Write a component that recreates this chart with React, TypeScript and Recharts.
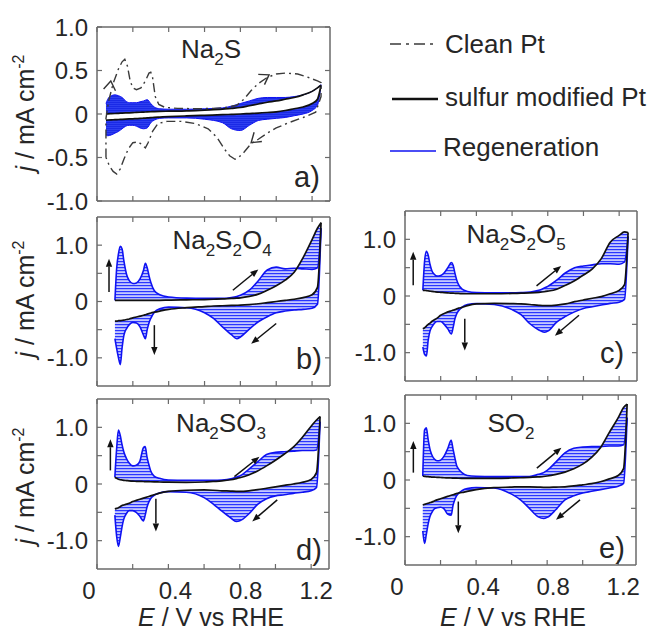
import React from "react";
import { ComposedChart, Line, Area, XAxis, YAxis, ReferenceLine } from "recharts";

const W = 655;
const H = 630;
const FONT = '"Liberation Sans", Arial, Helvetica, sans-serif';
const AXIS = "#6a6a6a";
const TXT = "#262626";
const BLUE = "#0f12f2";

// ---------- Potential grid (V vs RHE) for panels b–e ----------
const E_GRID = [0.10, 0.11, 0.12, 0.13, 0.14, 0.15, 0.165, 0.18, 0.20, 0.22, 0.24, 0.26, 0.27, 0.28, 0.29, 0.30, 0.32, 0.35, 0.40, 0.50, 0.60, 0.65, 0.70, 0.75, 0.78, 0.80, 0.85, 0.90, 0.95, 1.00, 1.05, 1.10, 1.15, 1.20, 1.23, 1.25];

// b) Na2S2O4
const B_SULF_AN = [0.02, 0.02, 0.02, 0.02, 0.02, 0.02, 0.02, 0.02, 0.02, 0.02, 0.02, 0.02, 0.02, 0.02, 0.02, 0.02, 0.02, 0.02, 0.025, 0.03, 0.035, 0.04, 0.045, 0.055, 0.06, 0.065, 0.09, 0.13, 0.2, 0.28, 0.38, 0.52, 0.78, 1.1, 1.3, 1.4];
const B_REGEN_AN = [0.02, 0.6, 0.85, 0.98, 0.93, 0.72, 0.48, 0.37, 0.32, 0.33, 0.4, 0.56, 0.68, 0.6, 0.46, 0.34, 0.19, 0.12, 0.08, 0.06, 0.055, 0.055, 0.055, 0.07, 0.09, 0.11, 0.2, 0.37, 0.56, 0.61, 0.58, 0.59, 0.58, 0.57, 0.6, 1.3];
const B_SULF_CA = [-0.35, -0.35, -0.34, -0.34, -0.335, -0.33, -0.32, -0.31, -0.29, -0.275, -0.26, -0.245, -0.235, -0.225, -0.215, -0.205, -0.19, -0.17, -0.14, -0.11, -0.09, -0.08, -0.075, -0.07, -0.067, -0.065, -0.055, -0.04, -0.02, 0.0, 0.02, 0.04, 0.07, 0.12, 0.25, 1.4];
const B_REGEN_CA = [-0.66, -0.84, -1.0, -1.12, -0.82, -0.6, -0.48, -0.41, -0.37, -0.38, -0.45, -0.6, -0.66, -0.5, -0.38, -0.3, -0.19, -0.13, -0.1, -0.11, -0.2, -0.3, -0.45, -0.59, -0.66, -0.63, -0.49, -0.36, -0.27, -0.2, -0.17, -0.15, -0.14, -0.12, -0.05, 1.3];

// c) Na2S2O5
const C_SULF_AN = [0.1, 0.1, 0.095, 0.09, 0.085, 0.08, 0.075, 0.07, 0.065, 0.06, 0.055, 0.05, 0.05, 0.048, 0.046, 0.045, 0.042, 0.04, 0.04, 0.04, 0.045, 0.05, 0.055, 0.065, 0.075, 0.085, 0.12, 0.19, 0.27, 0.37, 0.48, 0.66, 0.95, 1.07, 1.13, 1.12];
const C_REGEN_AN = [0.1, 0.62, 0.79, 0.72, 0.56, 0.45, 0.38, 0.35, 0.36, 0.41, 0.5, 0.59, 0.54, 0.4, 0.28, 0.2, 0.12, 0.08, 0.06, 0.055, 0.055, 0.06, 0.07, 0.1, 0.14, 0.17, 0.28, 0.41, 0.5, 0.53, 0.55, 0.57, 0.57, 0.56, 0.6, 1.05];
const C_SULF_CA = [-0.58, -0.56, -0.53, -0.5, -0.48, -0.45, -0.42, -0.39, -0.34, -0.31, -0.28, -0.26, -0.25, -0.24, -0.225, -0.215, -0.2, -0.17, -0.14, -0.13, -0.135, -0.14, -0.15, -0.165, -0.17, -0.17, -0.16, -0.14, -0.1, -0.07, -0.04, -0.01, 0.04, 0.1, 0.2, 1.12];
const C_REGEN_CA = [-0.9, -1.03, -1.06, -0.78, -0.62, -0.55, -0.48, -0.45, -0.45, -0.5, -0.58, -0.67, -0.55, -0.4, -0.31, -0.26, -0.195, -0.15, -0.135, -0.15, -0.24, -0.33, -0.49, -0.6, -0.64, -0.62, -0.46, -0.36, -0.28, -0.22, -0.19, -0.16, -0.13, -0.11, -0.06, 1.05];

// d) Na2SO3
const D_SULF_AN = [0.12, 0.1, 0.085, 0.075, 0.07, 0.065, 0.06, 0.055, 0.05, 0.048, 0.046, 0.044, 0.043, 0.042, 0.041, 0.04, 0.038, 0.035, 0.032, 0.03, 0.035, 0.045, 0.055, 0.075, 0.095, 0.11, 0.16, 0.23, 0.32, 0.42, 0.53, 0.65, 0.82, 1.02, 1.13, 1.19];
const D_REGEN_AN = [0.12, 0.62, 0.95, 0.86, 0.7, 0.57, 0.45, 0.37, 0.32, 0.33, 0.4, 0.64, 0.66, 0.48, 0.35, 0.24, 0.14, 0.1, 0.07, 0.065, 0.065, 0.065, 0.07, 0.09, 0.12, 0.14, 0.26, 0.39, 0.52, 0.56, 0.57, 0.58, 0.59, 0.59, 0.6, 1.1];
const D_SULF_CA = [-0.44, -0.43, -0.42, -0.4, -0.38, -0.37, -0.355, -0.34, -0.31, -0.29, -0.27, -0.25, -0.24, -0.23, -0.22, -0.21, -0.19, -0.16, -0.13, -0.11, -0.105, -0.11, -0.12, -0.125, -0.13, -0.13, -0.12, -0.1, -0.075, -0.05, -0.025, 0.0, 0.03, 0.08, 0.2, 1.19];
const D_REGEN_CA = [-0.55, -0.92, -1.1, -0.95, -0.76, -0.62, -0.52, -0.47, -0.47, -0.5, -0.57, -0.65, -0.55, -0.41, -0.32, -0.26, -0.2, -0.16, -0.135, -0.145, -0.24, -0.35, -0.48, -0.6, -0.66, -0.65, -0.53, -0.36, -0.26, -0.21, -0.19, -0.165, -0.145, -0.12, -0.06, 1.1];

// e) SO2
const E_SULF_AN = [0.07, 0.065, 0.06, 0.058, 0.055, 0.052, 0.05, 0.047, 0.044, 0.04, 0.038, 0.035, 0.034, 0.033, 0.032, 0.031, 0.03, 0.03, 0.03, 0.03, 0.035, 0.04, 0.045, 0.055, 0.062, 0.07, 0.1, 0.14, 0.2, 0.28, 0.4, 0.57, 0.84, 1.1, 1.28, 1.34];
const E_REGEN_AN = [0.07, 0.88, 0.92, 0.72, 0.55, 0.45, 0.37, 0.34, 0.35, 0.42, 0.55, 0.7, 0.55, 0.4, 0.26, 0.2, 0.13, 0.08, 0.065, 0.06, 0.06, 0.06, 0.06, 0.1, 0.13, 0.17, 0.32, 0.48, 0.56, 0.58, 0.59, 0.59, 0.6, 0.6, 0.62, 1.1];
const E_SULF_CA = [-0.44, -0.43, -0.42, -0.41, -0.4, -0.39, -0.37, -0.35, -0.33, -0.31, -0.29, -0.27, -0.26, -0.25, -0.24, -0.23, -0.22, -0.2, -0.17, -0.135, -0.125, -0.12, -0.12, -0.125, -0.13, -0.13, -0.125, -0.12, -0.105, -0.085, -0.065, -0.03, 0.02, 0.08, 0.2, 1.34];
const E_REGEN_CA = [-0.9, -1.12, -0.96, -0.78, -0.65, -0.58, -0.51, -0.49, -0.48, -0.51, -0.6, -0.62, -0.45, -0.35, -0.28, -0.24, -0.19, -0.15, -0.135, -0.14, -0.25, -0.35, -0.5, -0.65, -0.68, -0.66, -0.52, -0.35, -0.28, -0.23, -0.2, -0.17, -0.14, -0.11, -0.06, 1.1];

// ---------- a) Na2S ----------
const A_GRID = [0.05, 0.06, 0.08, 0.10, 0.12, 0.14, 0.16, 0.18, 0.20, 0.22, 0.24, 0.26, 0.28, 0.30, 0.32, 0.35, 0.40, 0.50, 0.60, 0.70, 0.75, 0.80, 0.85, 0.90, 0.95, 1.00, 1.05, 1.10, 1.15, 1.20, 1.23, 1.25];
const A_REGEN_UP = [0.12, 0.17, 0.21, 0.22, 0.21, 0.19, 0.15, 0.13, 0.13, 0.13, 0.14, 0.15, 0.165, 0.12, 0.08, 0.06, 0.055, 0.055, 0.06, 0.07, 0.09, 0.12, 0.15, 0.18, 0.19, 0.19, 0.19, 0.2, 0.22, 0.26, 0.3, 0.34];
const A_SULF_AN = [0.0, 0.002, 0.004, 0.006, 0.008, 0.01, 0.012, 0.014, 0.016, 0.018, 0.02, 0.022, 0.024, 0.026, 0.028, 0.03, 0.032, 0.036, 0.045, 0.055, 0.065, 0.075, 0.095, 0.115, 0.135, 0.15, 0.17, 0.19, 0.22, 0.26, 0.3, 0.33];
const A_SULF_CA = [-0.07, -0.069, -0.067, -0.065, -0.063, -0.061, -0.059, -0.057, -0.055, -0.053, -0.051, -0.048, -0.045, -0.042, -0.038, -0.035, -0.03, -0.022, -0.015, -0.008, -0.004, 0.0, 0.005, 0.01, 0.017, 0.025, 0.04, 0.06, 0.08, 0.12, 0.17, 0.33];
const A_REGEN_LOW = [-0.24, -0.25, -0.24, -0.22, -0.2, -0.17, -0.14, -0.13, -0.13, -0.14, -0.16, -0.17, -0.16, -0.1, -0.07, -0.05, -0.045, -0.045, -0.06, -0.1, -0.17, -0.19, -0.13, -0.075, -0.06, -0.05, -0.04, -0.02, 0.0, 0.04, 0.1, 0.33];

// Clean Pt CV (dash-dot), full loop in scan order
const CLEAN_E = [0.05, 0.05, 0.065, 0.09, 0.12, 0.14, 0.155, 0.17, 0.185, 0.2, 0.22, 0.245, 0.27, 0.29, 0.30, 0.31, 0.325, 0.345, 0.38, 0.45, 0.55, 0.65, 0.72, 0.78, 0.82, 0.86, 0.9, 0.95, 1.0, 1.05, 1.12, 1.18, 1.23, 1.25, 1.25, 1.22, 1.15, 1.07, 1.0, 0.95, 0.9, 0.86, 0.82, 0.79, 0.77, 0.74, 0.71, 0.67, 0.62, 0.55, 0.47, 0.39, 0.34, 0.31, 0.285, 0.27, 0.255, 0.23, 0.2, 0.175, 0.15, 0.13, 0.11, 0.09, 0.07, 0.05];
const CLEAN_J = [-0.5, -0.05, 0.15, 0.35, 0.52, 0.6, 0.63, 0.55, 0.38, 0.3, 0.28, 0.3, 0.38, 0.47, 0.48, 0.42, 0.2, 0.11, 0.075, 0.065, 0.06, 0.065, 0.075, 0.1, 0.17, 0.27, 0.35, 0.42, 0.46, 0.47, 0.46, 0.42, 0.38, 0.36, 0.2, 0.02, -0.04, -0.1, -0.16, -0.22, -0.29, -0.34, -0.44, -0.5, -0.52, -0.48, -0.4, -0.27, -0.17, -0.11, -0.085, -0.085, -0.11, -0.2, -0.33, -0.39, -0.36, -0.32, -0.33, -0.4, -0.52, -0.63, -0.69, -0.66, -0.6, -0.5];

// Scan-direction arrows [E1, j1, E2, j2]
const A_ARROWS = [[0.066, 0.22, 0.077, 0.38], [0.92, 0.4, 0.96, 0.45], [0.9, -0.26, 0.86, -0.33]];
const B_ARROWS = [[0.067, 0.17, 0.067, 0.76], [0.32, -0.42, 0.32, -0.95], [0.758, 0.2, 0.9, 0.57], [1.0, -0.39, 0.86, -0.75]];
const C_ARROWS = [[0.046, 0.19, 0.046, 0.78], [0.335, -0.4, 0.335, -0.96], [0.737, 0.18, 0.875, 0.53], [0.975, -0.34, 0.84, -0.7]];
const D_ARROWS = [[0.075, 0.24, 0.075, 0.79], [0.33, -0.26, 0.33, -0.84], [0.77, 0.13, 0.91, 0.48], [1.01, -0.28, 0.87, -0.66]];
const E_ARROWS = [[0.047, 0.13, 0.047, 0.69], [0.30, -0.38, 0.30, -0.94], [0.742, 0.21, 0.88, 0.57], [0.985, -0.35, 0.85, -0.7]];

const X_TICKS = [0, 0.2, 0.4, 0.6, 0.8, 1.0, 1.2];
const X_LABELED = [0, 0.4, 0.8, 1.2];
const Y_TICKS = [-1, -0.5, 0, 0.5, 1];

// ---------- helpers ----------
type Frame = { L: number; R: number; T: number; B: number };

const rowsFrom = (grid: number[], bA: number[], rA: number[], bC: number[], rC: number[]) =>
  grid.map((E, i) => ({ E, bA: bA[i], rA: rA[i], bC: bC[i], rC: rC[i] }));

const NoTick = () => <g />;

const ArrowShape = (p: any) => {
  const { x1, y1, x2, y2 } = p;
  const a = Math.atan2(y2 - y1, x2 - x1);
  const hl = 8;
  const hw = 3.2;
  const bx = x2 - hl * Math.cos(a);
  const by = y2 - hl * Math.sin(a);
  const px = -Math.sin(a) * hw;
  const py = Math.cos(a) * hw;
  return (
    <g>
      <line x1={x1} y1={y1} x2={bx} y2={by} stroke="#111" strokeWidth={1.5} />
      <polygon points={`${x2},${y2} ${bx + px},${by + py} ${bx - px},${by - py}`} fill="#111" />
    </g>
  );
};

const ChevronShape = (p: any) => {
  const { x1, y1, x2, y2 } = p;
  const a = Math.atan2(y2 - y1, x2 - x1);
  const hl = 9;
  const hw = 6;
  const bx = x2 - hl * Math.cos(a);
  const by = y2 - hl * Math.sin(a);
  const px = -Math.sin(a) * hw;
  const py = Math.cos(a) * hw;
  return (
    <polyline
      points={`${bx + px},${by + py} ${x2},${y2} ${bx - px},${by - py}`}
      fill="none"
      stroke="#333"
      strokeWidth={1.4}
    />
  );
};

function makeYTick(fmt: (v: number) => string | null) {
  return (props: any) => {
    const { x, y, payload } = props;
    const s = fmt(payload.value);
    if (s === null) return <g />;
    return (
      <text x={x} y={y + 8.5} textAnchor="end" fontSize={24} fill={TXT} fontFamily={FONT}>
        {s}
      </text>
    );
  };
}

const fmtAll = (v: number) => (v === 0 ? "0" : v.toFixed(1));
const fmtInt = (v: number) => (Number.isInteger(v) ? (v === 0 ? "0" : v.toFixed(1)) : null);

const X_LABEL_SHIFT = [-8, 7, 6, 5];
const XTick = (props: any) => {
  const { x, y, payload } = props;
  const idx = X_LABELED.findIndex((t) => Math.abs(t - payload.value) < 1e-6);
  if (idx < 0) return <g />;
  const v = X_LABELED[idx];
  return (
    <text x={x + X_LABEL_SHIFT[idx]} y={y + 8.5} textAnchor="middle" fontSize={24} fill={TXT} fontFamily={FONT}>
      {v === 0 ? "0" : v.toFixed(1)}
    </text>
  );
};

function Panel(props: {
  frame: Frame;
  yDomain: [number, number];
  yFmt: (v: number) => string | null;
  showX: boolean;
  data: any[];
  children: React.ReactNode;
}) {
  const { frame, yDomain, yFmt, showX, data, children } = props;
  const margin = { left: frame.L - 60, right: W - frame.R - 5, top: frame.T - 5, bottom: H - frame.B - 40 };
  const axisLine = { stroke: AXIS, strokeWidth: 1.5 };
  const tickLine = { stroke: AXIS, strokeWidth: 1.2 };
  return (
    <div style={{ position: "absolute", left: 0, top: 0, width: W, height: H }}>
      <ComposedChart width={W} height={H} data={data} margin={margin}>
        <XAxis
          xAxisId={0}
          type="number"
          dataKey="E"
          domain={[0, 1.3]}
          ticks={X_TICKS}
          interval={0}
          allowDataOverflow
          orientation="bottom"
          height={40}
          axisLine={axisLine}
          tickLine={tickLine}
          tickSize={-5}
          tickMargin={26}
          tick={showX ? XTick : NoTick}
        />
        <XAxis
          xAxisId="top"
          type="number"
          dataKey="E"
          domain={[0, 1.3]}
          ticks={X_TICKS}
          interval={0}
          allowDataOverflow
          orientation="top"
          height={5}
          axisLine={axisLine}
          tickLine={tickLine}
          tickSize={-5}
          tick={NoTick}
        />
        <YAxis
          yAxisId={0}
          type="number"
          domain={yDomain}
          ticks={Y_TICKS}
          interval={0}
          allowDataOverflow
          width={60}
          axisLine={axisLine}
          tickLine={tickLine}
          tickSize={-5}
          tickMargin={14}
          tick={makeYTick(yFmt)}
        />
        <YAxis
          yAxisId="right"
          orientation="right"
          type="number"
          domain={yDomain}
          ticks={Y_TICKS}
          interval={0}
          allowDataOverflow
          width={5}
          axisLine={axisLine}
          tickLine={tickLine}
          tickSize={-5}
          tick={NoTick}
        />
        {children}
      </ComposedChart>
    </div>
  );
}

function cvSeries(arrows: number[][]) {
  return [
    <Area key="ba" dataKey={(d: any) => [d.bA, d.rA]} type="monotone" stroke="none" fill="url(#cycleStripes)" fillOpacity={1} isAnimationActive={false} activeDot={false} />,
    <Area key="bc" dataKey={(d: any) => [d.rC, d.bC]} type="monotone" stroke="none" fill="url(#cycleStripes)" fillOpacity={1} isAnimationActive={false} activeDot={false} />,
    <Line key="ra" dataKey="rA" type="monotone" stroke={BLUE} strokeWidth={1.6} dot={false} activeDot={false} isAnimationActive={false} />,
    <Line key="rc" dataKey="rC" type="monotone" stroke={BLUE} strokeWidth={1.6} dot={false} activeDot={false} isAnimationActive={false} />,
    <Line key="sa" dataKey="bA" type="monotone" stroke="#111" strokeWidth={1.7} dot={false} activeDot={false} isAnimationActive={false} />,
    <Line key="sc" dataKey="bC" type="monotone" stroke="#111" strokeWidth={1.7} dot={false} activeDot={false} isAnimationActive={false} />,
    ...arrows.map((a, i) => (
      <ReferenceLine key={"ar" + i} segment={[{ x: a[0], y: a[1] }, { x: a[2], y: a[3] }]} shape={ArrowShape} />
    )),
  ];
}

function Formula(props: { x: number; y: number; parts: [string, boolean][] }) {
  const { x, y, parts } = props;
  let shifted = false;
  return (
    <text x={x} y={y} textAnchor="middle" fontSize={26} fill={TXT} fontFamily={FONT}>
      {parts.map(([s, sub], i) => {
        let dy = 0;
        if (sub && !shifted) { dy = 7; shifted = true; }
        else if (!sub && shifted) { dy = -7; shifted = false; }
        return (
          <tspan key={i} dy={dy} fontSize={sub ? 17 : 26}>
            {s}
          </tspan>
        );
      })}
    </text>
  );
}

export default function App() {
  const rowsA = A_GRID.map((E, i) => ({ E, up: A_REGEN_UP[i], sa: A_SULF_AN[i], sc: A_SULF_CA[i], low: A_REGEN_LOW[i] }));
  const cleanRows = CLEAN_E.map((E, i) => ({ E, j: CLEAN_J[i] }));
  const rowsB = rowsFrom(E_GRID, B_SULF_AN, B_REGEN_AN, B_SULF_CA, B_REGEN_CA);
  const rowsC = rowsFrom(E_GRID, C_SULF_AN, C_REGEN_AN, C_SULF_CA, C_REGEN_CA);
  const rowsD = rowsFrom(E_GRID, D_SULF_AN, D_REGEN_AN, D_SULF_CA, D_REGEN_CA);
  const rowsE = rowsFrom(E_GRID, E_SULF_AN, E_REGEN_AN, E_SULF_CA, E_REGEN_CA);

  return (
    <div style={{ position: "absolute", left: 0, top: 0, width: W, height: H, background: "#fff", fontFamily: FONT }}>
      <svg width={0} height={0} style={{ position: "absolute" }}>
        <defs>
          <pattern id="cycleStripes" width={6} height={3} patternUnits="userSpaceOnUse">
            <rect x={0} y={0} width={6} height={3} fill="#c4c9ff" />
            <rect x={0} y={0} width={6} height={1.2} fill="#2a36ff" />
          </pattern>
          <pattern id="denseStripes" width={6} height={2} patternUnits="userSpaceOnUse">
            <rect x={0} y={0} width={6} height={2} fill="#2e3ef0" />
            <rect x={0} y={0} width={6} height={1} fill="#1a2ae6" />
          </pattern>
        </defs>
      </svg>

      {/* a) Na2S */}
      <Panel frame={{ L: 97, R: 330, T: 27, B: 201 }} yDomain={[-1, 1]} yFmt={fmtAll} showX={false} data={rowsA}>
        {[
          <Area key="au" dataKey={(d: any) => [d.sa, d.up]} type="monotone" stroke="none" fill="url(#denseStripes)" fillOpacity={1} isAnimationActive={false} activeDot={false} />,
          <Area key="al" dataKey={(d: any) => [d.low, d.sc]} type="monotone" stroke="none" fill="url(#denseStripes)" fillOpacity={1} isAnimationActive={false} activeDot={false} />,
          <Line key="lu" dataKey="up" type="monotone" stroke={BLUE} strokeWidth={1} dot={false} activeDot={false} isAnimationActive={false} />,
          <Line key="ll" dataKey="low" type="monotone" stroke={BLUE} strokeWidth={1} dot={false} activeDot={false} isAnimationActive={false} />,
          <Line key="sa" dataKey="sa" type="monotone" stroke="#111" strokeWidth={1.7} dot={false} activeDot={false} isAnimationActive={false} />,
          <Line key="sc" dataKey="sc" type="monotone" stroke="#111" strokeWidth={1.7} dot={false} activeDot={false} isAnimationActive={false} />,
          <Line key="clean" data={cleanRows} dataKey="j" type="linear" stroke="#3a3a3a" strokeWidth={1.4} strokeDasharray="9 4 2 4" dot={false} activeDot={false} isAnimationActive={false} />,
          ...A_ARROWS.map((a, i) => (
            <ReferenceLine key={"ch" + i} segment={[{ x: a[0], y: a[1] }, { x: a[2], y: a[3] }]} shape={ChevronShape} />
          )),
        ]}
      </Panel>

      <Panel frame={{ L: 97, R: 330, T: 217, B: 386 }} yDomain={[-1.5, 1.5]} yFmt={fmtInt} showX={false} data={rowsB}>
        {cvSeries(B_ARROWS)}
      </Panel>
      <Panel frame={{ L: 405, R: 637, T: 211, B: 381 }} yDomain={[-1.5, 1.5]} yFmt={fmtInt} showX={false} data={rowsC}>
        {cvSeries(C_ARROWS)}
      </Panel>
      <Panel frame={{ L: 97, R: 329, T: 399, B: 569 }} yDomain={[-1.5, 1.5]} yFmt={fmtInt} showX={true} data={rowsD}>
        {cvSeries(D_ARROWS)}
      </Panel>
      <Panel frame={{ L: 405, R: 636, T: 395, B: 565 }} yDomain={[-1.5, 1.5]} yFmt={fmtInt} showX={true} data={rowsE}>
        {cvSeries(E_ARROWS)}
      </Panel>

      {/* text overlay */}
      <svg width={W} height={H} style={{ position: "absolute", left: 0, top: 0, pointerEvents: "none" }} fontFamily={FONT}>
        {[113, 299, 486].map((cy) => (
          <text key={cy} transform={`translate(34,${cy}) rotate(-90)`} textAnchor="middle" fontSize={25} fill={TXT}>
            <tspan fontStyle="italic">j</tspan>
            <tspan> / mA cm</tspan>
            <tspan dy={-10} fontSize={16}>-2</tspan>
          </text>
        ))}

        <Formula x={211} y={58} parts={[["Na", false], ["2", true], ["S", false]]} />
        <Formula x={222} y={249} parts={[["Na", false], ["2", true], ["S", false], ["2", true], ["O", false], ["4", true]]} />
        <Formula x={516} y={243} parts={[["Na", false], ["2", true], ["S", false], ["2", true], ["O", false], ["5", true]]} />
        <Formula x={221} y={432} parts={[["Na", false], ["2", true], ["SO", false], ["3", true]]} />
        <Formula x={511} y={432} parts={[["SO", false], ["2", true]]} />

        {[["a)", 307, 187], ["b)", 309, 369], ["c)", 612, 363], ["d)", 309, 560], ["e)", 612, 558]].map(([s, x, y]) => (
          <text key={s as string} x={x as number} y={y as number} textAnchor="middle" fontSize={29} fill={TXT}>
            {s}
          </text>
        ))}

        {[211, 513].map((cx) => (
          <text key={cx} x={cx} y={626} textAnchor="middle" fontSize={25} fill={TXT}>
            <tspan fontStyle="italic">E</tspan>
            <tspan> / V vs RHE</tspan>
          </text>
        ))}

        {/* legend */}
        <line x1={390} y1={44} x2={436} y2={44} stroke="#3a3a3a" strokeWidth={1.5} strokeDasharray="11 5 3 5" />
        <text x={445} y={53} fontSize={26} fill={TXT}>Clean Pt</text>
        <line x1={392} y1={99} x2={438} y2={99} stroke="#111" strokeWidth={2.6} />
        <text x={445} y={106} fontSize={26} fill={TXT}>sulfur modified Pt</text>
        <line x1={390} y1={151} x2={436} y2={151} stroke={BLUE} strokeWidth={1.5} />
        <text x={443} y={156} fontSize={26} fill={TXT}>Regeneration</text>
      </svg>
    </div>
  );
}
